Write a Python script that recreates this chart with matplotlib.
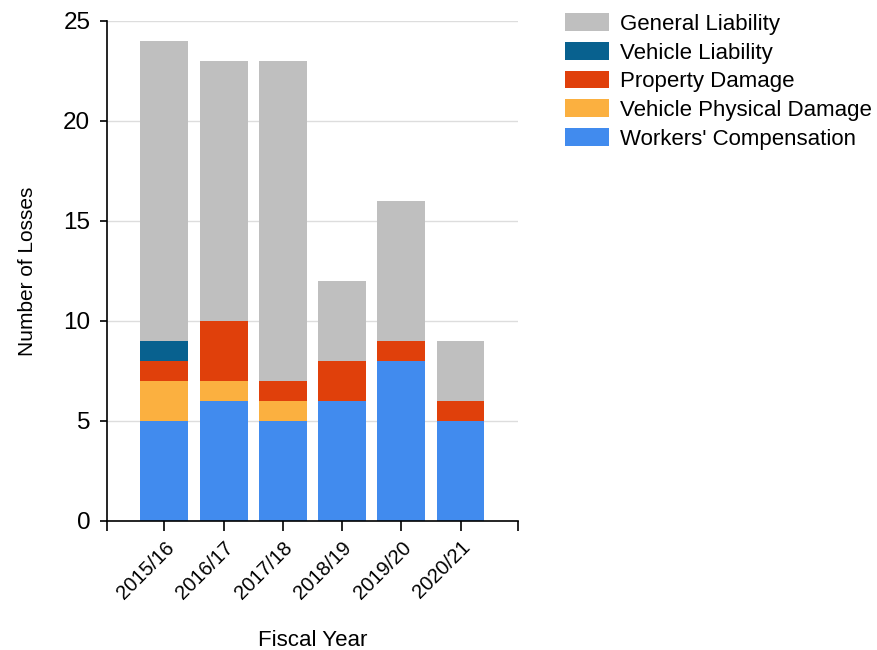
import numpy as np
import matplotlib
matplotlib.use('Agg')
import matplotlib.pyplot as plt

plt.rcParams['font.family'] = ['Liberation Sans', 'DejaVu Sans']

years = ['2015/16', '2016/17', '2017/18', '2018/19', '2019/20', '2020/21']
# stacked bottom -> top
workers_comp = [5, 6, 5, 6, 8, 5]
vehicle_phys = [2, 1, 1, 0, 0, 0]
property_dmg = [1, 3, 1, 2, 1, 1]
vehicle_liab = [1, 0, 0, 0, 0, 0]
general_liab = [15, 13, 16, 4, 7, 3]

series = [
    ("Workers' Compensation", workers_comp, '#418BEE'),
    ('Vehicle Physical Damage', vehicle_phys, '#FBB040'),
    ('Property Damage', property_dmg, '#E0400B'),
    ('Vehicle Liability', vehicle_liab, '#08618F'),
    ('General Liability', general_liab, '#BFBFBF'),
]

fig = plt.figure(figsize=(8.77, 6.5), dpi=100)
ax = fig.add_axes([0.122, 0.1985, 0.4686, 0.7692])

x = np.arange(len(years))
bottom = np.zeros(len(years))
handles = []
for name, vals, col in series:
    b = ax.bar(x, vals, 0.81, bottom=bottom, color=col, label=name, zorder=2)
    handles.append(b)
    bottom += np.array(vals)

ax.set_xlim(-0.97, 5.97)
ax.set_ylim(0, 25)
ax.set_yticks([0, 5, 10, 15, 20, 25])
ax.yaxis.grid(True, color='#DDDDDD', linewidth=1, zorder=0)
ax.set_axisbelow(True)
ax.spines['top'].set_visible(False)
ax.spines['right'].set_visible(False)
ax.tick_params(axis='y', labelsize=17.5, length=5, width=1.2, pad=7)
ax.tick_params(axis='x', labelsize=14.5, length=7, width=1.2, pad=5)
ax.set_xticks(x)
ax.set_xticks([-0.97, 5.97], minor=True)
ax.tick_params(axis='x', which='minor', length=7, width=1.2)
ax.set_xticklabels(years, rotation=45, ha='right', va='top', rotation_mode='anchor')
ax.spines['left'].set_linewidth(1.2)
ax.spines['bottom'].set_linewidth(1.2)
ax.set_xlabel('Fiscal Year', fontsize=16, labelpad=20)
ax.set_ylabel('Number of Losses', fontsize=15, labelpad=19)

fig.legend(handles[::-1], [s[0] for s in series][::-1],
           loc='upper left', bbox_to_anchor=(0.634, 0.993), frameon=False,
           fontsize=16, handlelength=2.0, handleheight=0.85,
           labelspacing=0.32, handletextpad=0.5, borderaxespad=0)

fig.savefig('out.png', dpi=100)
